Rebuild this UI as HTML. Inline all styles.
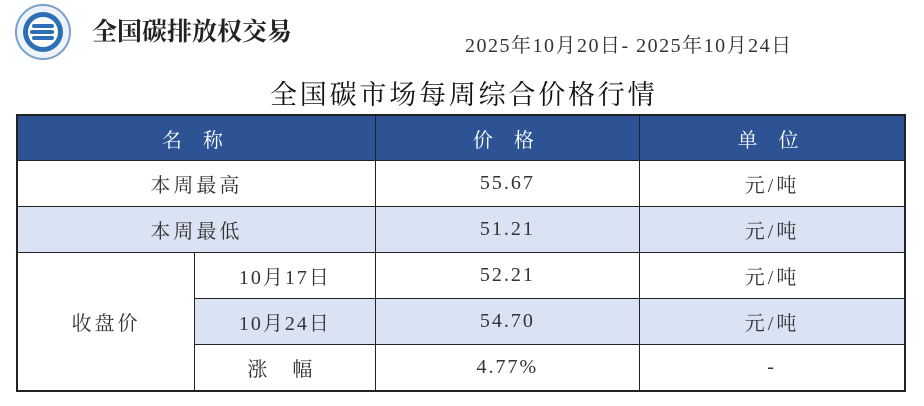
<!DOCTYPE html>
<html><head><meta charset="utf-8"><style>
body{margin:0;width:924px;height:406px;background:#fff;position:relative;overflow:hidden;font-family:"Liberation Serif","Noto Serif CJK SC",serif;color:#333}
.abs{position:absolute;white-space:nowrap}
table{position:absolute;left:16px;top:114px;width:890px;border-collapse:collapse;border:2px solid #222}
td{border:1.5px solid #222;text-align:center;font-size:20px;height:45px;padding:0;letter-spacing:3px}
.h td{background:#2e5394;color:#fff;height:44px;letter-spacing:8px}
.b{background:#dae3f3}
.n{letter-spacing:2px}
</style></head><body>
<svg class="abs" style="left:12px;top:3px" width="62" height="58" viewBox="0 0 62 58">
<circle cx="31" cy="29" r="27" fill="#eef3fa" stroke="#7aa0cc" stroke-width="2"/>
<circle cx="31" cy="29" r="20" fill="#2d6fb5"/>
<circle cx="31" cy="29" r="15" fill="#fff"/>
<rect x="20" y="21" width="22" height="4" rx="2" fill="#2d6fb5"/>
<rect x="18" y="27" width="24" height="4" rx="2" fill="#2d6fb5"/>
<rect x="20" y="33" width="22" height="4" rx="2" fill="#2d6fb5"/>
</svg>
<div class="abs" style="left:92px;top:12px;font-size:25px;font-weight:bold;color:#222;font-family:'Noto Serif CJK SC',serif">全国碳排放权交易</div>
<div class="abs" style="left:465px;top:29px;font-size:20px;color:#333;letter-spacing:1.5px">2025年10月20日- 2025年10月24日</div>
<div class="abs" style="left:270px;top:73px;font-size:27px;letter-spacing:2.8px;color:#111">全国碳市场每周综合价格行情</div>
<table>
<colgroup><col style="width:178px"><col style="width:181px"><col style="width:265px"><col style="width:266px"></colgroup>
<tr class="h"><td colspan="2">名 称</td><td>价 格</td><td>单 位</td></tr>
<tr><td colspan="2">本周最高</td><td class="n">55.67</td><td>元/吨</td></tr>
<tr class="b"><td colspan="2">本周最低</td><td class="n">51.21</td><td>元/吨</td></tr>
<tr><td rowspan="3" style="background:#fff">收盘价</td><td class="n">10月17日</td><td class="n">52.21</td><td>元/吨</td></tr>
<tr class="b"><td class="n">10月24日</td><td class="n">54.70</td><td>元/吨</td></tr>
<tr><td style="letter-spacing:10px">涨 幅</td><td class="n">4.77%</td><td>-</td></tr>
</table>
</body></html>
